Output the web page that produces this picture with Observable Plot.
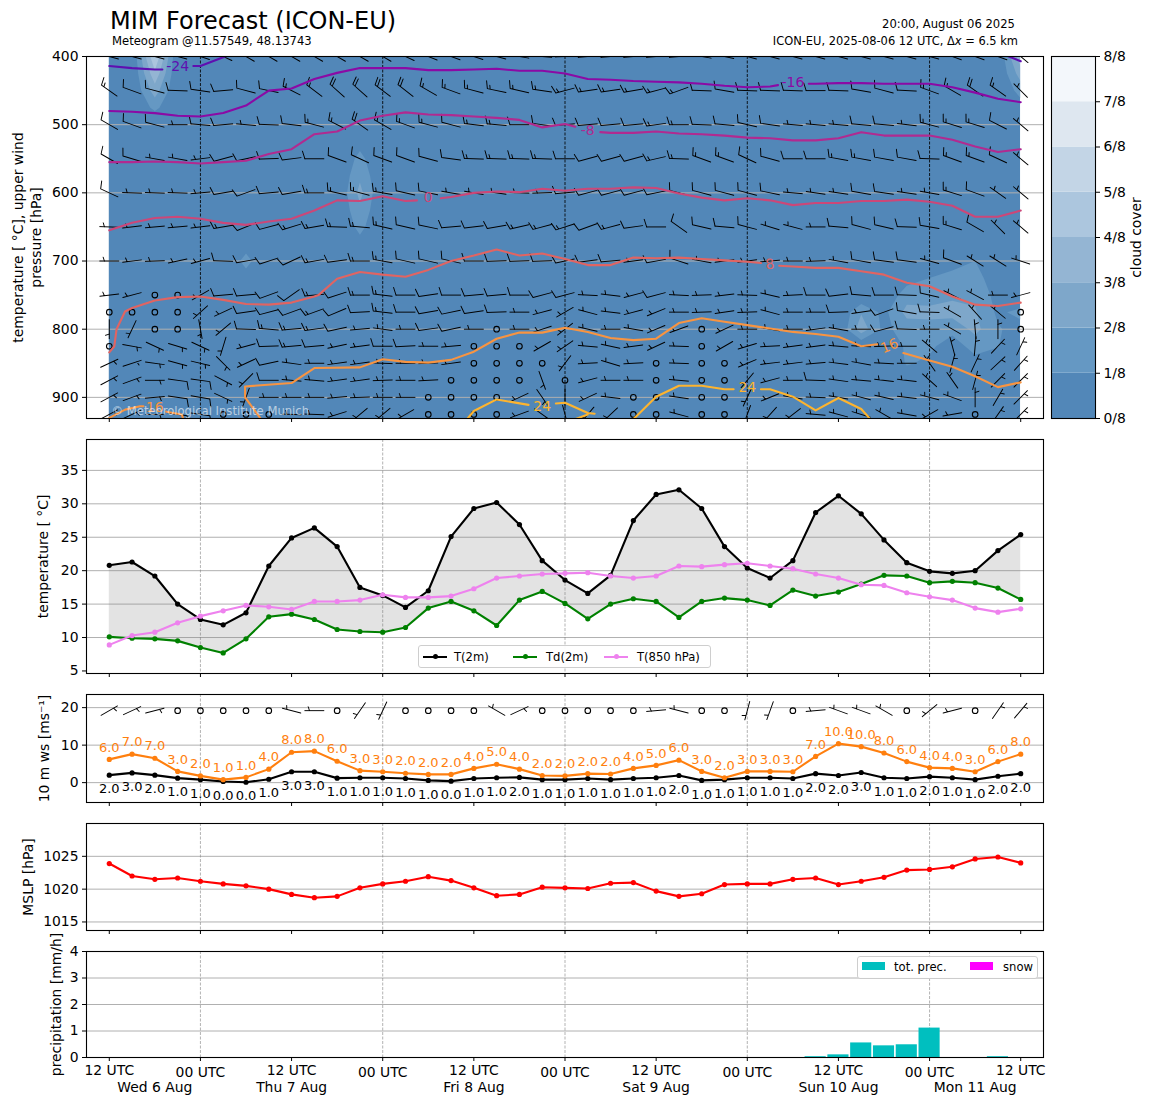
<!DOCTYPE html>
<html><head><meta charset="utf-8">
<script src="https://cdn.jsdelivr.net/npm/d3@7"></script>
<script src="https://cdn.jsdelivr.net/npm/@observablehq/plot@0.6"></script>
<style>
html,body{margin:0;padding:0;background:#fff}
#fig{position:relative;width:1155px;height:1105px;overflow:hidden;font-family:"DejaVu Sans",sans-serif;color:#000}
#fig svg{position:absolute;background:transparent}
.t{position:absolute;white-space:nowrap;transform:translateY(-50%)}
.box{position:absolute;background:#fff;border:1px solid #ccc;border-radius:3px;box-sizing:border-box;opacity:.95}
</style></head><body><div id="fig"></div>
<script>
const hours = d3.range(0, 123, 3);
const tickHours = d3.range(0, 121, 12);
const midnightHours = [12, 36, 60, 84, 108];
const noonHours = [0, 24, 48, 72, 96, 120];
const dayLabels = ["Wed 6 Aug","Thu 7 Aug","Fri 8 Aug","Sat 9 Aug","Sun 10 Aug","Mon 11 Aug"];
const dayLabelHours = [6, 24, 48, 72, 96, 114];

const t2m = [20.8,21.3,19.2,15.0,12.7,11.9,13.7,20.7,24.9,26.4,23.6,17.5,16.3,14.5,17.0,25.1,29.3,30.2,26.9,21.5,18.6,16.6,19.3,27.5,31.4,32.1,29.3,23.6,20.4,18.9,21.5,28.7,31.2,28.5,24.6,21.2,19.9,19.6,20.0,23.0,25.4];
const td2m = [10.1,9.9,9.8,9.5,8.5,7.7,9.8,13.1,13.5,12.7,11.2,10.9,10.8,11.5,14.4,15.4,14.0,11.8,15.6,16.9,15.1,12.8,15.0,15.8,15.4,13.0,15.4,15.9,15.6,14.8,17.1,16.2,16.8,18.0,19.3,19.2,18.2,18.4,18.2,17.4,15.7];
const t850 = [8.9,10.3,10.8,12.2,13.2,14.0,14.8,14.6,14.2,15.4,15.4,15.6,16.4,16.0,16.0,16.2,17.3,18.9,19.2,19.5,19.6,19.7,19.2,18.9,19.2,20.7,20.6,20.9,21.1,20.7,20.3,19.5,18.9,17.9,17.8,16.7,16.1,15.6,14.4,13.8,14.3];
const gust = [6.2,7.6,6.5,3.0,1.8,0.8,1.4,3.6,8.1,8.4,5.7,3.2,2.9,2.5,2.2,2.2,3.8,4.9,3.6,1.9,1.8,2.4,2.3,3.8,4.6,6.0,3.0,1.3,3.0,3.0,2.9,7.0,10.4,9.6,7.9,5.6,4.0,3.8,2.9,5.6,7.6];
const gustLabels = [6,7,7,3,2,1,1,4,8,8,6,3,3,2,2,2,4,5,4,2,2,2,2,4,5,6,3,2,3,3,3,7,10,10,8,6,4,4,3,6,8];
const ws10 = [2.0,2.6,2.0,1.2,0.8,0.3,0.1,0.9,2.9,2.9,1.2,1.3,1.3,1.1,0.6,0.4,1.1,1.3,1.4,0.8,0.8,1.1,0.8,1.1,1.3,1.9,0.6,0.8,1.3,1.3,1.1,2.4,1.9,2.7,1.3,1.1,1.6,1.3,0.8,1.7,2.4];
const wsLabels = [2,3,2,1,1,0,0,1,3,3,1,1,1,1,1,0,1,1,2,1,1,1,1,1,1,2,1,1,1,1,1,2,2,3,1,1,2,1,1,2,2];
const mslp = [1023.9,1022.0,1021.5,1021.7,1021.2,1020.8,1020.5,1020.0,1019.2,1018.7,1018.9,1020.2,1020.8,1021.2,1021.9,1021.3,1020.2,1019.0,1019.2,1020.3,1020.2,1020.1,1020.9,1021.0,1019.7,1018.9,1019.3,1020.7,1020.8,1020.8,1021.5,1021.7,1020.7,1021.2,1021.8,1022.9,1023.0,1023.4,1024.6,1024.9,1024.0];
const precipHours = [93,96,99,102,105,108,117];
const precipVals = [0.03,0.1,0.55,0.44,0.48,1.11,0.03];

const dir10m = [60,65,75,0,0,0,0,0,285,270, 0,215,205,0,0,0,0,300,65,0, 0,0,0,0,265,285,0,0,195,200, 0,265,290,290,300,0,230,255,0,35,40];
const spd10m = [5,5,5,0,0,0,0,0,5,5, 0,5,5,0,0,0,0,5,5,0, 0,0,0,0,5,5,0,0,5,5, 0,5,5,5,5,0,5,5,0,5,5];

const levels = [400,450,500,550,600,650,700,750,775,800,825,850,875,900,925];
const dir400 = [285,285,285,285,288,295,300,300,300,300, 300,300,300,295,292,290,288,285,280,275, 268,265,265,265,265,265,280,282,285,285, 285,285,285,285,285,285,285,290,290,290, 310];
const spd400 = [10,10,10,10,10,10,10,10,10,10, 10,10,10,10,10,10,10,10,10,10, 10,10,10,10,10,10,10,10,10,10, 10,10,10,10,10,10,10,10,10,10, 10];
const dir450 = [305,290,285,272,278,265,285,282,297,307, 312,312,307,308,300,290,285,282,283,278, 255,262,262,260,255,250,272,280,272,272, 272,270,272,280,285,273,290,300,305,305,315];
const spd450 = [15,10,10,10,10,10,10,10,15,15, 20,20,20,20,15,15,15,15,15,15, 15,15,15,15,15,15,10,10,10,10, 10,10,10,10,10,10,15,15,20,15,5];
const dir500 = [300,290,285,270,275,265,275,272,277,285, 297,305,300,290,285,285,277,275,270,278, 265,265,265,265,262,270,272,275,283,278, 275,275,275,275,275,277,285,287,287,297,310];
const spd500 = [10,10,10,5,10,10,5,10,10,15, 15,20,15,15,15,10,15,15,10,10, 10,10,10,10,15,15,10,10,10,10, 5,5,5,10,10,5,15,15,15,10,5];
const dir550 = [300,287,280,280,263,255,258,268,263,270, 290,295,290,290,285,278,272,272,272,272, 270,255,255,255,257,272,290,290,295,285, 270,270,280,280,280,280,272,290,290,295,310];
const spd550 = [10,10,5,5,5,10,10,10,10,10, 10,10,10,10,10,10,15,15,15,15, 10,10,10,10,15,15,15,15,10,10, 10,10,15,15,10,10,10,15,15,10,5];
const dir600 = [295,272,272,272,265,260,250,265,260,270, 283,285,280,283,282,280,280,278,272,268, 265,255,255,255,258,285,285,285,285,282, 275,278,278,280,278,278,280,287,290,305,310];
const spd600 = [10,5,5,5,5,10,10,10,10,15, 15,15,15,10,10,5,5,5,5,5, 10,10,10,10,10,10,10,10,10,10, 5,5,5,10,10,5,5,15,10,5,5];
const dir650 = [272,263,265,265,263,260,248,255,253,260, 272,275,283,283,282,265,263,260,257,255, 252,250,255,262,270,305,283,275,285,287, 285,270,275,285,283,272,280,287,300,315,310];
const spd650 = [5,5,5,5,5,15,10,10,15,15, 15,15,15,10,10,10,10,10,15,15, 15,10,15,10,10,10,10,10,10,5, 5,5,10,10,10,10,10,15,10,5,5];
const dir700 = [270,263,268,258,255,272,260,252,245,260, 262,270,280,283,283,283,270,268,268,268, 258,262,265,262,260,288,280,262,262,265, 270,268,280,280,278,278,285,290,302,302,288];
const spd700 = [5,5,5,5,5,10,10,10,10,15, 10,15,15,10,10,10,10,10,10,10, 10,10,10,5,10,10,5,5,5,5, 5,5,5,10,10,10,5,10,5,5,5];
const dir750 = [263,255,0,0,240,265,265,250,235,265, 252,270,277,270,262,270,265,265,270,255, 255,273,277,255,255,273,268,263,272,283, 267,270,263,275,270,272,283,297,298,270,255];
const spd750 = [5,5,0,0,5,10,10,10,10,15, 10,15,15,10,10,10,10,10,10,10, 10,5,5,5,10,5,5,5,5,5, 5,10,10,10,10,10,10,5,5,5,5];
const dir775 = [0,0,0,0,228,245,262,255,250,250, 247,267,277,270,260,258,262,268,270,255, 240,285,277,255,248,270,268,262,268,285, 270,270,268,262,250,280,272,300,318,310,0];
const spd775 = [0,0,0,0,5,5,10,10,10,15, 10,10,15,10,10,10,10,10,5,5, 5,5,5,5,5,5,5,5,5,5, 5,5,10,5,10,10,10,5,5,5,0];
const dir800 = [180,205,0,0,170,230,272,275,265,262, 258,265,278,270,262,258,270,0,270,252, 232,283,270,280,247,250,0,245,270,280, 270,262,280,270,255,272,270,300,355,0,0];
const spd800 = [5,5,0,0,5,5,10,15,15,15, 10,5,5,5,10,10,5,0,5,5, 5,5,5,5,5,5,0,5,5,5, 5,5,5,5,10,10,5,5,5,5,0];
const dir825 = [0,100,115,107,115,197,255,268,265,265, 258,262,270,267,270,265,0,0,0,240, 235,275,282,262,245,272,0,240,253,267, 262,262,275,273,268,270,310,345,5,43,25];
const spd825 = [0,5,5,5,5,5,5,10,15,10, 5,5,10,10,5,5,0,0,0,5, 5,5,5,5,5,5,0,5,5,5, 5,5,5,5,5,5,5,5,5,5,5];
const dir850 = [65,72,98,105,103,135,245,258,278,270, 262,262,272,270,268,262,0,0,0,0, 217,267,287,267,0,272,0,0,247,263, 263,265,277,280,273,270,325,15,25,47,42];
const spd850 = [5,5,5,5,5,5,5,10,5,5, 5,5,5,5,5,5,0,0,0,0, 5,5,5,5,0,5,0,0,5,5, 5,5,5,5,5,5,5,5,5,5,5];
const dir875 = [62,70,90,98,98,118,225,270,275,275, 262,262,268,270,267,0,0,0,0,160, 0,255,270,270,0,275,0,0,220,255, 270,272,278,275,277,277,312,325,15,45,45];
const spd875 = [5,5,5,10,10,5,5,10,5,5, 5,5,5,5,5,0,0,0,0,5, 0,5,5,5,0,5,0,0,5,5, 5,10,5,5,5,5,5,5,5,5,5];
const dir900 = [62,70,85,98,100,115,200,270,270,270, 265,268,270,270,0,0,0,0,245,145, 180,245,277,0,0,278,0,0,205,248, 280,272,280,285,283,277,285,290,0,30,45];
const spd900 = [5,5,5,10,10,5,5,5,5,5, 5,5,5,5,0,0,0,0,5,5, 5,5,5,0,0,5,0,0,5,5, 5,5,5,5,5,5,5,5,5,5,5];
const dir925 = [62,65,90,98,98,0,0,0,272,272, 253,230,230,240,0,0,0,0,250,125, 165,220,227,0,0,285,0,0,200,222, 232,275,285,287,300,280,240,260,0,35,45];
const spd925 = [5,5,5,10,10,0,0,0,5,5, 5,5,5,5,0,0,0,0,5,5, 5,5,5,0,0,5,0,0,5,5, 5,5,5,5,5,5,5,5,0,5,5];
const dirRows = [dir400,dir450,dir500,dir550,dir600,dir650,dir700,dir750,dir775,dir800,dir825,dir850,dir875,dir900,dir925];
const spdRows = [spd400,spd450,spd500,spd550,spd600,spd650,spd700,spd750,spd775,spd800,spd825,spd850,spd875,spd900,spd925];

// isotherms: [time index, pressure] pairs, segments broken where the inline labels sit
const isoM24a = [[0,414],[1,417],[2,419],[2.33,419]];
const isoM24b = [[3.69,414],[4,414],[5,401],[5.2,398]];
const isoM24c = [[39.4,399],[40,407]];
const isoM16 = [[0,480],[1,481],[2,483],[3,487],[4,488],[5,483],[6,472],[7,450],[8,447],[9,433],[10,424],[11,417],[12,417],[13,417],[14,420],[15,420],[16,419],[17,418],[18,421],[19,421],[20,425],[21,433],[22,434],[23,436],[24,437],[25,438],[26,440],[27,443],[28,445],[29,444],[29.35,442]];
const isoM16b = [[30.7,440],[31,440],[32,439],[33,439],[34,440],[35,440],[36,440],[37,445],[38,453],[39,462],[40,467]];
const isoM8a = [[0,555],[1,555],[2,554],[3,555],[4,557],[5,555],[6,553],[7,543],[8,536],[9,514],[10,510],[11,494],[12,487],[13,482],[14,485],[15,486],[16,488],[17,490],[18,493],[19,504],[20,499],[20.45,503]];
const isoM8b = [[21.55,511],[22,512],[23,512],[24,510],[25,513],[26,514],[27,516],[28,519],[29,520],[30,523],[31,523],[32,520],[33,511],[34,516],[35,516],[36,516],[37,522],[38,532],[39,540],[40,536]];
const iso0a = [[0,655],[1,644],[2,637],[3,635],[4,638],[5,644],[6,647],[7,642],[8,638],[9,626],[10,611],[11,612],[12,605],[13,612],[13.5,611]];
const iso0b = [[14.55,608],[15,606],[16,600],[17,598],[18,599],[19,594],[20,597],[21,594],[22,594],[23,592],[24,593],[25,601],[26,607],[27,611],[28,608],[29,611],[30,618],[31,615],[32,615],[33,612],[34,612],[35,610],[36,613],[37,619],[38,635],[39,635],[40,626]];
const iso8a = [[0,834],[0.22,825],[0.32,800],[0.69,774],[1,769],[2,758],[3,753],[4,752],[5,757],[6,763],[7,764],[8,761],[9,752],[9.18,750],[10,726],[11,716],[12,720],[13,723],[14,713],[15,700],[16,692],[17,683],[18,692],[19,689],[20,697],[21,706],[22,706],[23,695],[24,696],[25,695],[26,697],[27,699],[28,701],[28.6,703]];
const iso8b = [[29.4,707],[30,708],[31,710],[32,710],[33,715],[34,720],[35,732],[36,737],[37,752],[38,764],[39,766],[40,761]];
const iso16a = [[0,930],[0.7,918],[1.35,913],[1.5,913]];
const iso16b = [[2.5,921],[3.18,925],[3.25,932]];
const iso16c = [[6.66,932],[5.96,900],[5.96,884],[8,879],[9,857],[11,856],[12,844],[13,848],[14,849],[15,845],[16,833],[17,814],[18,805],[19,805],[20,798],[21,804],[22,813],[23,816],[24,814],[25,791],[26,784],[27,789],[28,794],[29,799],[30,804],[31,807],[32,811],[33,825],[33.7,822]];
const iso16d = [[34.85,835],[36,846],[37,855],[38,869],[39,885],[40,878]];
const iso24a = [[15.7,932],[16,920],[17,903],[18.4,911]];
const iso24b = [[19.6,909],[20,908],[21,923],[21.3,924]];
const iso24c = [[20.45,932],[21,925]];
const iso24d = [[23,932],[24,899],[25,883],[26,883],[27,888],[27.4,888]];
const iso24e = [[28.6,888],[29,888],[30,899],[31,919],[32,901],[33,917],[33.4,932]];
const isoLabels = ["-24","-16","-8","0","8","16","16","24","24"];
const isoLabelIdx = [3,30,21,14,29,2,34.24,19,28];
const isoLabelP = [414.5,438.6,508.4,607,704.8,914.7,824.5,913,885.4];
const isoLabelColors = ["#5f0fb0","#8b0aa5","#b12a90","#cc4778","#e16462","#f89441","#f89441","#fdb42f","#fdb42f"];
const isoLabelRot = [0,0,0,0,-6,0,-22,0,0];

// cloud cover, in eighths, at the grid nodes that are not clear
const cloudCol = [2,2,2,2, 11,11,11,11,11,11,11, 6,6,6, 33,33,33, 34,34, 35,35,35,35,35,35,35, 36,36,36,36,36,36, 37,37,37,37,37,37, 38,38,38,38,38,38,38, 39,39,39,39,39,39,39, 40,40, 40,40,40,40];
const cloudLev = [400,425,450,475, 525,550,575,600,625,650,675, 675,700,725, 775,800,825, 775,800, 725,750,775,800,825,850,875, 725,750,775,800,825,850, 700,725,750,775,800,825, 700,725,750,775,800,825,850, 750,775,800,825,850,875,900, 775,800, 400,425,450,475];
const cloudVal = [5,3.75,2.5,1.25, 0.65,1.3,1.8,2.3,1.8,1.3,0.65, 0.55,1.35,0.55, 1.9,2.6,0.1, 0.7,0.7, 0.5,1.6,2.3,1.5,1.2,1.1,0.3, 1,1.5,2.3,1.6,1.2,0.8, 0.5,1.4,1.8,2.4,1.3,0.5, 1,1.6,1.8,2.1,2.3,1.4,0.6, 0.6,0.8,1.1,1.05,0.4,0.6,0.9, 1.3,0.6, 3.7,2.5,1.4,0.5];
const cloudGridLevels = d3.range(400, 926, 25);
const cloudEighths = [1,2,3,4,5,6,7];
const cloudBands = [0,1,2,3,4,5,6,7];
const cloudColors = ["#5287b8","#6598c3","#7ea7ca","#94b5d3","#acc6de","#c3d5e6","#dee7f0","#f3f7fb"];
const cloudTickText = ["0/8","1/8","2/8","3/8","4/8","5/8","6/8","7/8","8/8"];

const FONT = "DejaVu Sans";
const fig = document.getElementById("fig");
const xScale = {domain: [-3, 123]};
const toH = i => i * 3;

function panel(top, frameH, yOpts, marks, extra = {}) {
  const mt = 8, mb = extra.marginBottom ?? 8;
  const svg = Plot.plot({
    width: 1155, height: frameH + mt + mb,
    marginLeft: 86, marginRight: 112, marginTop: mt, marginBottom: mb,
    x: xScale, y: yOpts, color: extra.color,
    style: {fontFamily: FONT, fontSize: "13.9px", color: "#000", background: "transparent", overflow: "visible"},
    marks
  });
  svg.style.top = (top - mt) + "px"; svg.style.left = "0px";
  fig.appendChild(svg);
}
const axX = () => Plot.axisX({ticks: tickHours, tickFormat: () => "", tickSize: 4, label: null, anchor: "bottom"});
const axY = ticks => Plot.axisY({ticks, tickSize: 4, tickPadding: 4, label: null, tickFormat: d => String(d)});
const yTitle = (s, dx) => Plot.text([s], {text: d => d, frameAnchor: "left", textAnchor: "middle", lineAnchor: "middle", rotate: -90, dx, fontSize: 13.9, lineHeight: 1.3});
const grid = v => Plot.ruleY(v, {stroke: "#b0b0b0", strokeWidth: 1});
const vDash = (c, w) => Plot.ruleX(midnightHours, {stroke: c, strokeWidth: w, strokeDasharray: "3 1.5"});

function barbShape(s) {
  const L = 19, fh = 7.6, fw = 2.4, hh = 3.8, hw = 1.2, step = 2.9;
  return {draw(ctx) {
    ctx.moveTo(0, L / 2); ctx.lineTo(0, -L / 2);
    let off = -L / 2, full = Math.floor(s / 10), half = s % 10 >= 5;
    if (full === 0 && half) off += 4.6;
    for (let k = 0; k < full; k++) { ctx.moveTo(0, off); ctx.lineTo(fh, off - fw); off += step; }
    if (half) { ctx.moveTo(0, off); ctx.lineTo(hh, off - hw); }
  }};
}
function barbs(rows) {
  const marks = [];
  for (const s of [5, 10, 15, 20])
    marks.push(Plot.vector(rows.filter(d => d.s === s), {x: "t", y: "p", rotate: "d", length: 1, anchor: "start", shape: barbShape(s), stroke: "#000", strokeWidth: 0.95, clip: true}));
  marks.push(Plot.dot(rows.filter(d => d.s === 0), {x: "t", y: "p", r: 2.8, stroke: "#000", strokeWidth: 1.1, fill: "none", clip: true}));
  return marks;
}

// ---------- top panel ----------
const windRows = [];
levels.forEach((p, j) => hours.forEach((t, i) => windRows.push({t, p, d: dirRows[j][i], s: spdRows[j][i]})));
const cloudGrid = new Array(hours.length * cloudGridLevels.length).fill(0);
cloudCol.forEach((c, k) => { cloudGrid[cloudGridLevels.indexOf(cloudLev[k]) * hours.length + c] = cloudVal[k]; });
const isoSets = [
  ["#5f0fb0", [isoM24a, isoM24b, isoM24c]], ["#8b0aa5", [isoM16, isoM16b]], ["#b12a90", [isoM8a, isoM8b]],
  ["#cc4778", [iso0a, iso0b]], ["#e16462", [iso8a, iso8b]], ["#f89441", [iso16a, iso16b, iso16c, iso16d]],
  ["#fdb42f", [iso24a, iso24b, iso24c, iso24d, iso24e]]
];
const isoMarks = [];
isoSets.forEach(([c, segs]) => segs.forEach(seg => isoMarks.push(Plot.line(seg, {x: d => toH(d[0]), y: d => d[1], stroke: c, strokeWidth: 2.1, clip: true}))));
const isoLabelRows = isoLabels.map((text, k) => ({text, t: toH(isoLabelIdx[k]), p: isoLabelP[k], c: isoLabelColors[k], r: isoLabelRot[k]}));

panel(56, 362, {domain: [931, 400]}, [
  Plot.rect([0], {x1: 0, x2: 120, y1: 400, y2: 931, fill: cloudColors[0]}),
  Plot.contour(cloudGrid, {width: hours.length, height: cloudGridLevels.length, x1: -1.5, x2: 121.5, y1: 387.5, y2: 937.5, thresholds: cloudEighths, fill: Plot.identity, clip: true}),
  Plot.rect([0], {x1: 120, x2: 123, y1: 400, y2: 931, fill: "#fff"}),
  grid([500,600,700,800,900]),
  vDash("#000", 0.85),
  ...barbs(windRows),
  ...isoMarks,
  Plot.text(isoLabelRows, {x: "t", y: "p", text: "text", fill: "c", rotate: "r", fontSize: 14}),
  Plot.text(["© Meteorological Institute Munich"], {text: d => d, frameAnchor: "bottom-left", dx: 25, dy: -4, fill: "#fff", fillOpacity: 0.6, fontSize: 11.6, lineAnchor: "bottom"}),
  Plot.frame({stroke: "#000", strokeWidth: 1.1}),
  axX(), axY([400,500,600,700,800,900]),
  yTitle("temperature [ °C], upper wind\npressure [hPa]", -60)
], {color: {type: "threshold", domain: cloudEighths, range: cloudColors}});

// ---------- colorbar ----------
const cb = Plot.plot({
  width: 108, height: 378, marginLeft: 4, marginRight: 60, marginTop: 8, marginBottom: 8,
  x: {domain: [0, 1], axis: null}, y: {domain: [0, 8]},
  style: {fontFamily: FONT, fontSize: "13.9px", color: "#000", background: "transparent", overflow: "visible"},
  marks: [
    Plot.rect(cloudBands, {x1: 0, x2: 1, y1: d => d, y2: d => d + 1, fill: d => cloudColors[d]}),
    Plot.frame({stroke: "#000", strokeWidth: 1.1}),
    Plot.axisY({anchor: "right", ticks: d3.range(0, 9), tickSize: 4, tickPadding: 4, label: null, tickFormat: d => cloudTickText[d]}),
    Plot.text(["cloud cover"], {text: d => d, frameAnchor: "right", textAnchor: "middle", lineAnchor: "middle", rotate: -90, dx: 41, fontSize: 13.9})
  ]
});
cb.style.top = "48px"; cb.style.left = "1047px";
fig.appendChild(cb);

// ---------- temperature ----------
const tRows = hours.map((t, i) => ({t, T: t2m[i], Td: td2m[i], T850: t850[i]}));
const series = (rows, key, c) => [Plot.line(rows, {x: "t", y: key, stroke: c, strokeWidth: 2.1}), Plot.dot(rows, {x: "t", y: key, fill: c, r: 2.6})];
panel(439, 234, {domain: [4.62, 39.62]}, [
  grid([10,15,20,25,30,35]),
  vDash("#808080", 0.6),
  Plot.areaY(tRows, {x: "t", y1: "T", y2: "Td", fill: "#808080", fillOpacity: 0.22}),
  ...series(tRows, "T", "#000"), ...series(tRows, "Td", "#008000"), ...series(tRows, "T850", "#ee82ee"),
  Plot.frame({stroke: "#000", strokeWidth: 1.1}), axX(), axY([5,10,15,20,25,30,35]),
  yTitle("temperature [ °C]", -44)
]);

// ---------- 10 m wind ----------
const wRows = hours.map((t, i) => ({t, g: gust[i], w: ws10[i], gl: gustLabels[i].toFixed(1), wl: wsLabels[i].toFixed(1)}));
const row10m = hours.map((t, i) => ({t, p: 19.2, d: dir10m[i], s: spd10m[i]}));
panel(694, 108, {domain: [-5.3, 23.5]}, [
  grid([0,10,20]),
  vDash("#808080", 0.6),
  ...barbs(row10m),
  ...series(wRows, "w", "#000"), ...series(wRows, "g", "#ff7f0e"),
  Plot.text(wRows, {x: "t", y: "g", text: "gl", dy: -12, fill: "#ff7f0e", fontSize: 13}),
  Plot.text(wRows, {x: "t", y: "w", text: "wl", dy: 14, fill: "#000", fontSize: 13}),
  Plot.frame({stroke: "#000", strokeWidth: 1.1}), axX(), axY([0,10,20]),
  yTitle("10 m ws [ms⁻¹]", -43)
]);

// ---------- MSLP ----------
const pRows = hours.map((t, i) => ({t, v: mslp[i]}));
panel(823, 107, {domain: [1013.7, 1030]}, [
  grid([1015,1020,1025]),
  vDash("#808080", 0.6),
  ...series(pRows, "v", "#ff0000"),
  Plot.frame({stroke: "#000", strokeWidth: 1.1}), axX(), axY([1015,1020,1025]),
  yTitle("MSLP [hPa]", -59)
]);

// ---------- precipitation ----------
const rRows = precipHours.map((t, i) => ({t, v: precipVals[i]}));
panel(951, 106, {domain: [0, 4]}, [
  grid([1,2,3]),
  vDash("#808080", 0.6),
  Plot.rectY(rRows, {x1: d => d.t - 1.39, x2: d => d.t + 1.39, y: "v", fill: "#00bfbf"}),
  Plot.frame({stroke: "#000", strokeWidth: 1.1}), axX(), axY([0,1,2,3,4]),
  Plot.text(noonHours, {x: d => d, y: 0, text: () => "12 UTC", dy: 13, fontSize: 13.9, clip: false}),
  Plot.text(midnightHours, {x: d => d, y: 0, text: () => "00 UTC", dy: 15.5, fontSize: 13.9, clip: false}),
  Plot.text(dayLabels, {x: (d, i) => dayLabelHours[i], y: 0, text: d => d, dy: 30, fontSize: 13.9, clip: false}),
  yTitle("precipitation [mm/h]", -31)
], {marginBottom: 48});

// ---------- html text and legends ----------
function label(html, css) { const e = document.createElement("div"); e.className = "t"; e.innerHTML = html; e.style.cssText = css; fig.appendChild(e); return e; }
label("MIM Forecast (ICON-EU)", "left:110px;top:21px;font-size:24px");
label("Meteogram @11.57549, 48.13743", "left:112px;top:41px;font-size:11.6px");
label("20:00, August 06 2025", "right:140px;top:24px;font-size:11.6px");
label("ICON-EU, 2025-08-06 12 UTC, Δ<i>x</i> = 6.5 km", "right:137px;top:41px;font-size:11.45px");

function box(l, t, w, h) { const e = document.createElement("div"); e.className = "box"; e.style.cssText = `left:${l}px;top:${t}px;width:${w}px;height:${h}px`; fig.appendChild(e); }
function swatch(css) { const e = document.createElement("div"); e.style.cssText = "position:absolute;" + css; fig.appendChild(e); }
box(418, 645, 293, 23);
[[423, 454, "T(2m)", "#000"], [513, 546, "Td(2m)", "#008000"], [604, 637, "T(850 hPa)", "#ee82ee"]].forEach(([x, tx, s, c]) => {
  swatch(`left:${x}px;top:655.5px;width:24px;height:2px;background:${c}`);
  swatch(`left:${x + 9.5}px;top:654px;width:5px;height:5px;border-radius:50%;background:${c}`);
  label(s, `left:${tx}px;top:656.5px;font-size:11.6px`);
});
box(857, 956, 181, 23);
swatch("left:862px;top:962px;width:23px;height:8px;background:#00bfbf");
label("tot. prec.", "left:894px;top:967px;font-size:11.6px");
swatch("left:970px;top:962px;width:23px;height:8px;background:#ff00ff");
label("snow", "left:1003px;top:967px;font-size:11.6px");
</script></body></html>
